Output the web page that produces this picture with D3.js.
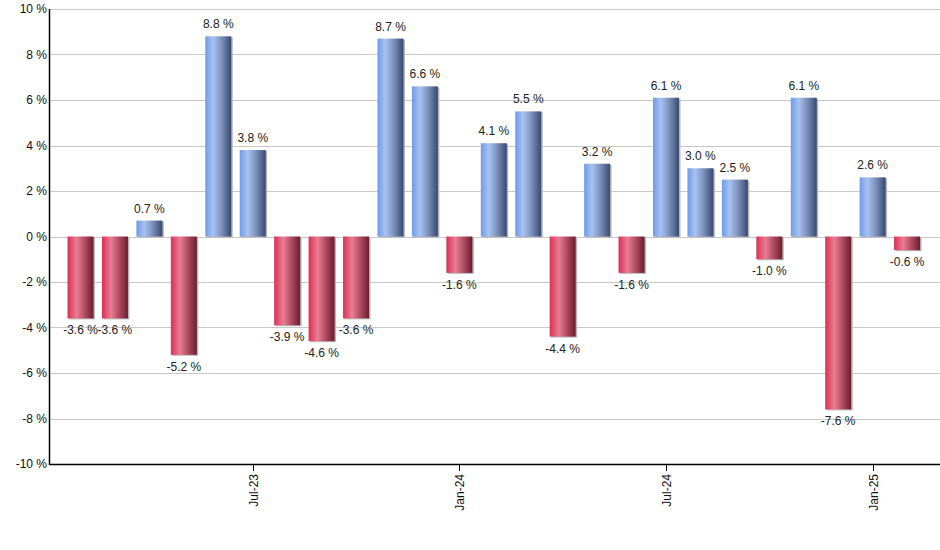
<!DOCTYPE html>
<html><head><meta charset="utf-8">
<script src="https://cdn.jsdelivr.net/npm/d3@7"></script>
<style>body{margin:0;background:#fff;} text{font-family:"Liberation Sans",Arial,sans-serif;}</style>
</head><body>
<svg id="c" width="940" height="550"></svg>
<script>
const months = ["Feb-23","Mar-23","Apr-23","May-23","Jun-23","Jul-23","Aug-23","Sep-23","Oct-23","Nov-23","Dec-23","Jan-24","Feb-24","Mar-24","Apr-24","May-24","Jun-24","Jul-24","Aug-24","Sep-24","Oct-24","Nov-24","Dec-24","Jan-25","Feb-25"];
const values = [-3.6,-3.6,0.7,-5.2,8.8,3.8,-3.9,-4.6,-3.6,8.7,6.6,-1.6,4.1,5.5,-4.4,3.2,-1.6,6.1,3.0,2.5,-1.0,6.1,-7.6,2.6,-0.6];
const tickLabels = ["Jul-23","Jan-24","Jul-24","Jan-25"];
const yTicks = [-10,-8,-6,-4,-2,0,2,4,6,8,10];

(function(){
const svg = d3.select("#c");
const mL = 49, mR = 940, mT = 9, mB = 464;
const x = d3.scaleBand().domain(months).range([63.3, 924.3]).paddingInner(0.245).paddingOuter(0.1225);
const y = d3.scaleLinear().domain([-10, 10]).range([mB, mT]);

const defs = svg.append("defs");
function grad(id, stops) {
  const g = defs.append("linearGradient").attr("id", id).attr("x1","0").attr("x2","1").attr("y1","0").attr("y2","0");
  stops.forEach(s => g.append("stop").attr("offset", s[0]).attr("stop-color", s[1]));
}
grad("gb", [[0,"#6f9be6"],[0.3,"#a8c2f1"],[0.6,"#7f95c0"],[1,"#38496f"]]);
grad("gr", [[0,"#dd2f55"],[0.35,"#e87d93"],[0.65,"#b24d63"],[1,"#6a1d2d"]]);

svg.append("g").selectAll("line").data(yTicks).join("line")
  .attr("x1", mL).attr("x2", mR)
  .attr("y1", d => Math.round(y(d)) + 0.5).attr("y2", d => Math.round(y(d)) + 0.5)
  .attr("stroke", "#c8c8c8").attr("stroke-width", 1);

svg.append("g").selectAll("text").data(yTicks).join("text")
  .attr("x", 47).attr("y", d => y(d) + 4)
  .attr("text-anchor", "end").attr("font-size", 12).attr("fill", "#111")
  .text(d => d + " %");

const cx = m => x(m) + x.bandwidth() / 2;
const bw = x.bandwidth();

svg.append("g").selectAll("rect").data(values).join("rect")
  .attr("x", (d, i) => cx(months[i]) - bw / 2 + 1.5)
  .attr("y", d => Math.min(y(d), y(0)) + 1)
  .attr("width", bw)
  .attr("height", d => Math.abs(y(d) - y(0)))
  .attr("fill", "#b8b8b8");

svg.append("g").selectAll("rect").data(values).join("rect")
  .attr("x", (d, i) => cx(months[i]) - bw / 2)
  .attr("y", d => Math.min(y(d), y(0)))
  .attr("width", bw)
  .attr("height", d => Math.abs(y(d) - y(0)))
  .attr("fill", d => d >= 0 ? "url(#gb)" : "url(#gr)");

svg.append("g").selectAll("text").data(values).join("text")
  .attr("x", (d, i) => cx(months[i]))
  .attr("y", d => d >= 0 ? y(d) - 8 : y(d) + 16)
  .attr("text-anchor", "middle").attr("font-size", 12).attr("fill", "#222")
  .text(d => d.toFixed(1) + " %");

svg.append("line").attr("x1", mL + 0.5).attr("x2", mL + 0.5).attr("y1", mT).attr("y2", mB + 1)
  .attr("stroke", "#000").attr("stroke-width", 1.5);
svg.append("line").attr("x1", mL).attr("x2", mR).attr("y1", mB + 0.5).attr("y2", mB + 0.5)
  .attr("stroke", "#000").attr("stroke-width", 1.5);

const tg = svg.append("g").selectAll("g").data(tickLabels).join("g")
  .attr("transform", d => `translate(${Math.round(cx(d)) + 0.5},${mB})`);
tg.append("line").attr("y1", 0).attr("y2", 7).attr("stroke", "#000");
tg.append("text").attr("transform", "rotate(-90)").attr("x", -10).attr("y", 4)
  .attr("text-anchor", "end").attr("font-size", 12).attr("fill", "#111").text(d => d);
})();
</script>
</body></html>
